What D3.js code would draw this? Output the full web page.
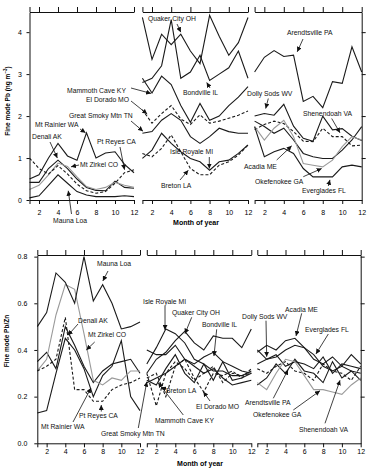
<!DOCTYPE html>
<html>
<head>
<meta charset="utf-8">
<script src="https://cdn.jsdelivr.net/npm/d3@7"></script>
<style>
body { margin: 0; background: #fff; }
text { font-family: "Liberation Sans", Arial, sans-serif; }
</style>
</head>
<body>
<div id="main"></div>
<script>
var months = [1, 2, 3, 4, 5, 6, 7, 8, 9, 10, 11, 12];
var monthTicks = [1, 2, 4, 6, 8, 10, 12];
var pbTicks = [0, 1, 2, 3, 4];
var ratioTicks = [0, 0.2, 0.4, 0.6, 0.8];

var westSites = ["Denali AK", "Mt Rainier WA", "Mt Zirkel CO", "Pt Reyes CA", "Mauna Loa"];
var centralSites = ["Quaker City OH", "Bondville IL", "Mammoth Cave KY", "El Dorado MO", "Great Smoky Mtn TN", "Isle Royale MI", "Breton LA"];
var eastSites = ["Arendtsville PA", "Dolly Sods WV", "Shenendoah VA", "Acadia ME", "Okefenokee GA", "Everglades FL"];

// fine mode Pb, ng m-3 (same site order as above)
var pbWest = [
  [0.42, 0.42, 0.75, 0.95, 0.75, 0.5, 0.3, 0.23, 0.22, 0.45, 0.3, 0.28],
  [0.5, 0.6, 1.0, 1.35, 1.05, 0.95, 1.6, 1.0, 1.12, 1.15, 0.85, 0.65],
  [0.25, 0.35, 0.6, 0.88, 0.8, 0.55, 0.32, 0.25, 0.3, 0.42, 0.35, 0.3],
  [1.0, 0.75, 0.62, 0.82, 0.62, 0.38, 0.22, 0.16, 0.2, 0.4, 0.65, 0.72],
  [0.05, 0.1, 0.35, 0.6, 0.4, 0.2, 0.12, 0.08, 0.08, 0.08, 0.1, 0.08]
];
var pbCentral = [
  [4.35, 3.35, 3.95, 3.7, 3.95, 3.55, 3.25, 4.4, 3.9, 3.45, 3.75, 4.35],
  [2.8, 2.9, 3.2, 4.3, 2.9, 3.05, 3.45, 2.85, 3.0, 3.15, 3.55, 2.9],
  [2.9, 2.55, 2.95, 2.75, 2.25, 1.85, 2.3, 1.9, 2.0, 2.25, 2.45, 2.7],
  [2.15, 1.83, 2.06, 2.25, 1.93, 1.8, 2.03, 1.83, 1.88, 1.95, 2.02, 2.12],
  [1.59, 1.63, 1.9, 2.06, 1.9, 1.51, 1.35, 1.51, 1.71, 1.63, 1.59, 1.59],
  [0.99, 1.19, 1.59, 1.35, 1.15, 0.99, 0.91, 0.71, 0.91, 0.95, 1.11, 1.31],
  [1.11, 1.03, 1.23, 1.55, 1.15, 0.75, 0.6, 0.6, 0.83, 0.91, 1.07, 1.31]
];
var pbEast = [
  [3.05, 3.4, 3.56, 3.42, 3.45, 2.35, 2.47, 2.2, 2.82, 2.78, 3.65, 3.05],
  [2.0, 2.06, 2.02, 2.28, 1.76, 1.47, 1.4, 2.0, 1.67, 1.7, 1.52, 1.42],
  [1.68, 1.8, 1.88, 1.82, 1.63, 1.4, 1.39, 1.71, 1.51, 1.51, 1.29, 1.31],
  [1.88, 1.75, 1.59, 1.71, 1.43, 1.11, 1.03, 0.99, 0.99, 1.19, 1.43, 1.75],
  [1.75, 1.43, 1.71, 1.9, 1.51, 0.87, 0.83, 0.79, 0.95, 1.27, 1.51, 1.43],
  [1.75, 1.03, 1.15, 1.23, 1.11, 0.75, 0.55, 0.55, 0.55, 0.79, 0.83, 0.79]
];

// fine mode Pb/Zn
var ratioWest = [
  [0.35, 0.39, 0.32, 0.5, 0.42, 0.33, 0.26, 0.31, 0.34, 0.35, 0.36, 0.3],
  [0.13, 0.14, 0.3, 0.45, 0.4, 0.32, 0.2, 0.29, 0.33, 0.44, 0.2, 0.14],
  [0.31, 0.36, 0.55, 0.68, 0.66, 0.47, 0.27, 0.25, 0.28, 0.27, 0.31, 0.31],
  [0.31, 0.33, 0.36, 0.54, 0.23, 0.23, 0.18, 0.18, 0.23, 0.25, 0.26, 0.28],
  [0.5, 0.56, 0.73, 0.69, 0.6, 0.8, 0.61, 0.68, 0.6, 0.49, 0.5, 0.52]
];
var ratioCentral = [
  [0.3, 0.36, 0.39, 0.44, 0.48, 0.43, 0.4, 0.46, 0.45, 0.45, 0.41, 0.49],
  [0.4, 0.38, 0.38, 0.42, 0.36, 0.34, 0.37, 0.39, 0.35, 0.33, 0.31, 0.3],
  [0.27, 0.25, 0.32, 0.38, 0.3, 0.26, 0.34, 0.27, 0.35, 0.27, 0.28, 0.3],
  [0.28, 0.3, 0.2, 0.33, 0.36, 0.28, 0.22, 0.3, 0.29, 0.31, 0.28, 0.32],
  [0.26, 0.28, 0.3, 0.33, 0.36, 0.33, 0.3, 0.32, 0.28, 0.25, 0.26, 0.27],
  [0.34, 0.41, 0.49, 0.47, 0.43, 0.36, 0.34, 0.31, 0.31, 0.29, 0.29, 0.31],
  [0.3, 0.16, 0.3, 0.35, 0.32, 0.27, 0.3, 0.33, 0.26, 0.3, 0.29, 0.3]
];
var ratioEast = [
  [0.25, 0.28, 0.34, 0.3, 0.36, 0.31, 0.3, 0.26, 0.35, 0.28, 0.31, 0.27],
  [0.4, 0.36, 0.38, 0.33, 0.35, 0.34, 0.32, 0.37, 0.3, 0.34, 0.33, 0.32],
  [0.32, 0.3, 0.33, 0.35, 0.31, 0.3, 0.27, 0.34, 0.31, 0.3, 0.27, 0.33],
  [0.39, 0.42, 0.4, 0.44, 0.45, 0.41, 0.36, 0.34, 0.37, 0.33, 0.38, 0.34],
  [0.26, 0.23, 0.3, 0.36, 0.35, 0.29, 0.23, 0.23, 0.22, 0.21, 0.25, 0.28],
  [0.34, 0.36, 0.37, 0.4, 0.42, 0.41, 0.38, 0.33, 0.31, 0.33, 0.31, 0.3]
];

var dashedSites = ["Pt Reyes CA", "El Dorado MO", "Breton LA", "Shenendoah VA"];
var graySites = ["Mt Zirkel CO", "Okefenokee GA"];

// label text at (tx,ty), arrow from (lx,ly) to the point (m, v) of panel p
var topNotes = [
  {t: "Quaker City OH", tx: 148, ty: 21, lx: 177, ly: 24, p: 1, m: 5, v: 4.0},
  {t: "Bondville IL", tx: 183, ty: 95, lx: 210, ly: 88, p: 1, m: 7.7, v: 2.8},
  {t: "Mammoth Cave KY", tx: 67, ty: 93, lx: 131, ly: 88, p: 1, m: 1.9, v: 2.54},
  {t: "El Dorado MO", tx: 86, ty: 102, lx: 131, ly: 101, p: 1, m: 1.5, v: 2.05},
  {t: "Great Smoky Mtn TN", tx: 69, ty: 118, lx: 131, ly: 121, p: 1, m: 1.06, v: 1.64},
  {t: "Mt Rainier WA", tx: 35, ty: 127, lx: 80, ly: 129, p: 0, m: 6.9, v: 1.6},
  {t: "Denali AK", tx: 32, ty: 139, lx: 50, ly: 142, p: 0, m: 3.93, v: 1.0},
  {t: "Pt Reyes CA", tx: 97, ty: 144, lx: 120, ly: 147, p: 0, m: 11, v: 0.72},
  {t: "Mt Zirkel CO", tx: 80, ty: 167, lx: 79, ly: 165, p: 0, m: 5.37, v: 0.79},
  {t: "Mauna Loa", tx: 53, ty: 222.5, lx: 71.5, ly: 214, p: 0, m: 5.08, v: 0.22},
  {t: "Isle Royale MI", tx: 170, ty: 154, lx: 209.3, ly: 157, p: 1, m: 7.97, v: 0.75},
  {t: "Breton LA", tx: 161, ty: 187.5, lx: 180, ly: 180, p: 1, m: 5.78, v: 0.71},
  {t: "Arendtsville PA", tx: 287, ty: 35, lx: 303, ly: 39, p: 2, m: 5.38, v: 3.53},
  {t: "Dolly Sods WV", tx: 247, ty: 96, lx: 268.3, ly: 98.5, p: 2, m: 2.14, v: 2.18},
  {t: "Shenendoah VA", tx: 303, ty: 116, lx: 331.7, ly: 118.5, p: 2, m: 9.77, v: 1.6},
  {t: "Acadia ME", tx: 244, ty: 168.5, lx: 276.7, ly: 160, p: 2, m: 4.81, v: 1.29},
  {t: "Okefenokee GA", tx: 255, ty: 184, lx: 303.3, ly: 176.7, p: 2, m: 7.89, v: 0.75},
  {t: "Everglades FL", tx: 302, ty: 193, lx: 328.3, ly: 186, p: 2, m: 8.74, v: 0.48}
];
var bottomNotes = [
  {t: "Mauna Loa", tx: 97, ty: 266, lx: 108, ly: 271, p: 0, m: 8.02, v: 0.696},
  {t: "Denali AK", tx: 78, ty: 323, lx: 78, ly: 324, p: 0, m: 4.29, v: 0.463},
  {t: "Mt Zirkel CO", tx: 88, ty: 337, lx: 94.7, ly: 342, p: 0, m: 6.25, v: 0.4},
  {t: "Pt Reyes CA", tx: 79, ty: 418, lx: 101.3, ly: 411.5, p: 0, m: 7.85, v: 0.164},
  {t: "Mt Rainier WA", tx: 41, ty: 429, lx: 73, ly: 422, p: 0, m: 6.75, v: 0.237},
  {t: "Great Smoky Mtn TN", tx: 101, ty: 436, lx: 138.3, ly: 428, p: 1, m: 1.0, v: 0.264},
  {t: "Isle Royale MI", tx: 143, ty: 304, lx: 165, ly: 306, p: 1, m: 2.92, v: 0.486},
  {t: "Quaker City OH", tx: 172, ty: 315, lx: 191.7, ly: 317.3, p: 1, m: 5.02, v: 0.47},
  {t: "Bondville IL", tx: 202, ty: 327, lx: 216.7, ly: 329.3, p: 1, m: 8.07, v: 0.374},
  {t: "Dolly Sods WV", tx: 242, ty: 319, lx: 266, ly: 320.7, p: 2, m: 2.0, v: 0.371},
  {t: "Acadia ME", tx: 285, ty: 312, lx: 301.7, ly: 313.3, p: 2, m: 5.12, v: 0.46},
  {t: "Everglades FL", tx: 305, ty: 332, lx: 328.3, ly: 334, p: 2, m: 7.24, v: 0.383},
  {t: "Breton LA", tx: 166, ty: 392.5, lx: 166, ly: 389, p: 1, m: 2.5, v: 0.24},
  {t: "El Dorado MO", tx: 196, ty: 409, lx: 210, ly: 401, p: 1, m: 6.95, v: 0.221},
  {t: "Mammoth Cave KY", tx: 155, ty: 422.5, lx: 183.3, ly: 415, p: 1, m: 2.2, v: 0.26},
  {t: "Arendtsville PA", tx: 245, ty: 405, lx: 273.3, ly: 398.3, p: 2, m: 4.27, v: 0.315},
  {t: "Okefenokee GA", tx: 253, ty: 417, lx: 293.3, ly: 410, p: 2, m: 7.67, v: 0.225},
  {t: "Shenendoah VA", tx: 299, ty: 431.5, lx: 325, ly: 423.3, p: 2, m: 9.8, v: 0.27}
];

var svg = d3.select("#main").append("svg")
  .attr("width", 371)
  .attr("height", 471);

svg.append("defs").append("marker")
  .attr("id", "arrow")
  .attr("markerUnits", "userSpaceOnUse")
  .attr("markerWidth", 6)
  .attr("markerHeight", 5)
  .attr("refX", 5)
  .attr("refY", 2.5)
  .attr("orient", "auto")
  .append("path")
  .attr("d", "M0,0L5,2.5L0,5Z")
  .attr("fill", "#111");

var rows = [
  {
    values: [pbWest, pbCentral, pbEast],
    y: d3.scaleLinear().domain([0, 4.48]).range([200, 12]),
    ranges: [[29.5, 134], [142.4, 248], [254.6, 361.7]],
    ticks: pbTicks, fmt: d3.format("d"), yPad: 4.5, xPad: 6,
    notes: topNotes, titleY: 225, titleX: 196, labelX: 9.5, labelY: 101
  },
  {
    values: [ratioWest, ratioCentral, ratioEast],
    y: d3.scaleLinear().domain([0, 0.807]).range([443.3, 255]),
    ranges: [[37.3, 140], [146.8, 251.3], [257.3, 360.7]],
    ticks: ratioTicks, fmt: d3.format(".1f"), yPad: 7, xPad: 2,
    notes: bottomNotes, titleY: 465.5, titleX: 200, labelX: 8.5, labelY: 341
  }
];
var sitesByPanel = [westSites, centralSites, eastSites];

rows.forEach(function(row, r) {
  var g = svg.append("g");
  var xs = row.ranges.map(function(rg) {
    return d3.scaleLinear().domain([1, 12]).range(rg);
  });

  xs.forEach(function(x, p) {
    var bottom = g.append("g")
      .attr("transform", "translate(0," + row.y.range()[0] + ")")
      .call(d3.axisBottom(x).tickValues(monthTicks).tickSize(4).tickSizeOuter(0).tickPadding(row.xPad)
        .tickFormat(function(d) { return d === 1 ? "" : d; }));
    var top = g.append("g")
      .attr("transform", "translate(0," + row.y.range()[1] + ")")
      .call(d3.axisTop(x).tickValues(monthTicks).tickSize(5).tickSizeOuter(0).tickFormat(""));
    [bottom, top].forEach(function(a) {
      a.attr("font-size", 7).attr("font-family", null);
      a.selectAll("path, line").attr("stroke", "#111");
    });

    var line = d3.line()
      .x(function(d, i) { return x(months[i]); })
      .y(function(d) { return row.y(d); });
    g.append("g").selectAll("path.site").data(row.values[p]).enter().append("path")
      .attr("class", "site")
      .attr("d", line)
      .attr("fill", "none")
      .attr("stroke", function(d, i) { return graySites.indexOf(sitesByPanel[p][i]) >= 0 ? "#9a9a9a" : "#1a1a1a"; })
      .attr("stroke-width", 1.1)
      .attr("stroke-dasharray", function(d, i) { return dashedSites.indexOf(sitesByPanel[p][i]) >= 0 ? "3,2" : null; });
  });

  var left = g.append("g")
    .attr("transform", "translate(" + row.ranges[0][0] + ",0)")
    .call(d3.axisLeft(row.y).tickValues(row.ticks).tickFormat(row.fmt).tickSize(3).tickSizeOuter(0).tickPadding(row.yPad));
  var right = g.append("g")
    .attr("transform", "translate(" + row.ranges[2][1] + ",0)")
    .call(d3.axisRight(row.y).tickValues(row.ticks.slice(1)).tickFormat("").tickSize(4).tickSizeOuter(0));
  [left, right].forEach(function(a) {
    a.attr("font-size", 7).attr("font-family", null);
    a.selectAll("path, line").attr("stroke", "#111");
  });

  // annotations
  row.notes.forEach(function(n) {
    g.append("line")
      .attr("x1", n.lx).attr("y1", n.ly)
      .attr("x2", xs[n.p](n.m)).attr("y2", row.y(n.v))
      .attr("stroke", "#111")
      .attr("stroke-width", 0.8)
      .attr("marker-end", "url(#arrow)");
    g.append("text")
      .attr("x", n.tx).attr("y", n.ty)
      .attr("font-size", 6.8)
      .attr("fill", "#111")
      .text(n.t);
  });

  g.append("text")
    .attr("x", row.titleX).attr("y", row.titleY)
    .attr("text-anchor", "middle")
    .attr("font-size", 7)
    .attr("font-weight", "bold")
    .text("Month of year");

  var yl = g.append("text")
    .attr("transform", "translate(" + row.labelX + "," + row.labelY + ") rotate(-90)")
    .attr("text-anchor", "middle")
    .attr("font-size", 6.5)
    .attr("font-weight", "bold");
  if (r === 0) {
    yl.append("tspan").text("Fine mode Pb (ng m");
    yl.append("tspan").attr("dy", -2.5).attr("font-size", 4.5).text("\u22123");
    yl.append("tspan").attr("dy", 2.5).text(")");
  } else {
    yl.text("Fine mode Pb/Zn");
  }
});
</script>
</body>
</html>
